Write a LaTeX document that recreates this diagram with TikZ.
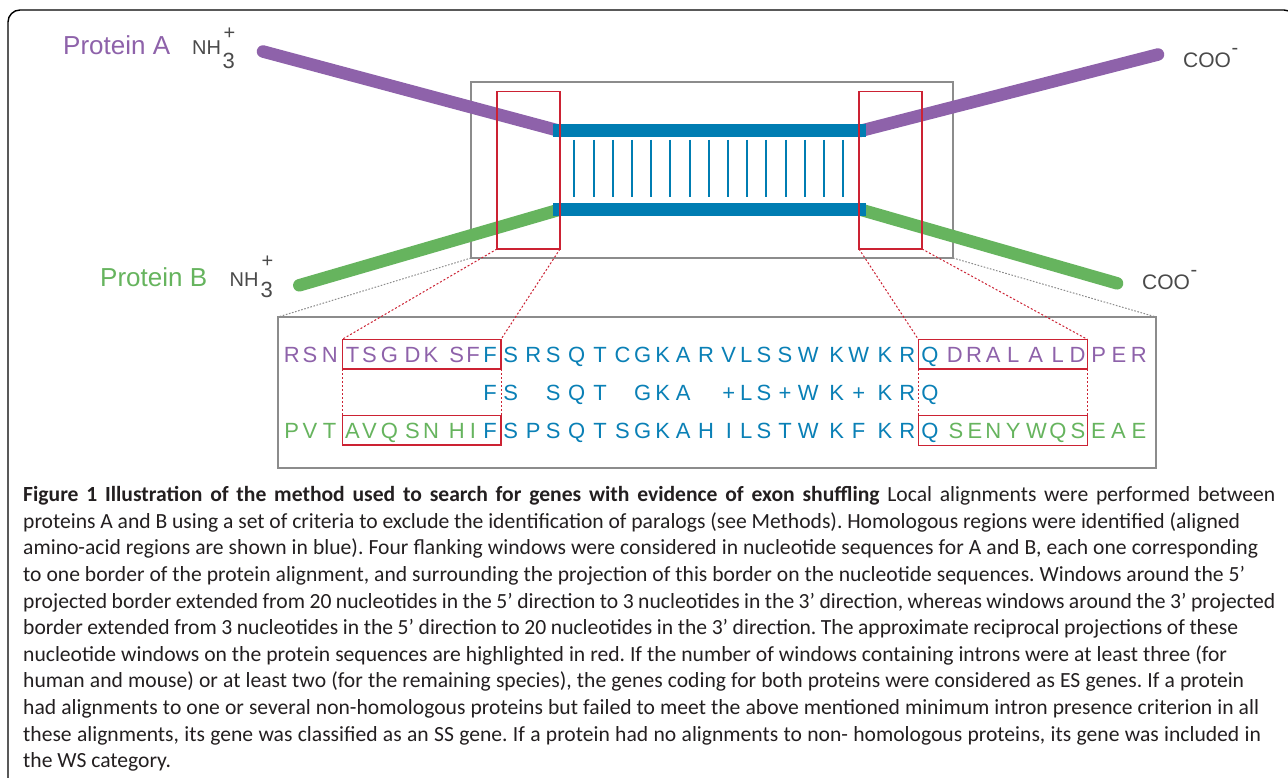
\documentclass[tikz,border=0pt]{standalone}
\usepackage{fontspec}
\setmainfont{Liberation Sans}
\newfontfamily\capfont{Carlito}
\definecolor{cpur}{HTML}{8E62AA}
\definecolor{cgrn}{HTML}{66B45E}
\definecolor{cblu}{HTML}{007DB2}
\definecolor{tblu}{HTML}{0A80B6}
\definecolor{cred}{HTML}{CC2233}
\definecolor{cgry}{HTML}{8C8C8C}
\definecolor{ctxt}{HTML}{4A4A4A}
\definecolor{ccap}{HTML}{231F20}
\frenchspacing
\tikzset{
  band/.style={line width=12.5pt, line cap=round},
  bar/.style={fill=cblu, draw=none},
  rung/.style={draw=cblu, line width=2pt},
  greybox/.style={draw=cgry, line width=1.4pt},
  redbox/.style={draw=cred, line width=1.2pt},
  reddot/.style={draw=cred, line width=1pt, dash pattern=on 2pt off 2pt},
  greydot/.style={draw=cgry, line width=1pt, dash pattern=on 1.6pt off 1.6pt},
  plabel/.style={inner sep=0, anchor=base west, font=\fontsize{26}{26}\selectfont},
  chem/.style={inner sep=0, text=ctxt, font=\fontsize{20}{20}\selectfont},
  seq/.style={inner sep=0, anchor=base, font=\fontsize{22}{22}\selectfont},
  capline/.style={inner sep=0, anchor=base west, text=ccap, font=\capfont\fontsize{21.6}{21.6}\selectfont},
}
\begin{document}
\begin{tikzpicture}[x=1pt,y=-1pt]
\useasboundingbox (0,0) rectangle (1288,778);
\clip (0,0) rectangle (1288,778);
\fill[white] (0,0) rectangle (1288,778);
% outer frame
\draw[line width=1.4pt, black, rounded corners=12pt] (8,800) -- (8,10) -- (1296,10) -- (1296,800);
% grey boxes
\draw[greybox] (471,82) rectangle (953,258);
\draw[greybox] (278,317) rectangle (1156,468);
\coordinate (gbl) at (471,258); \coordinate (gbr) at (953,258);
\coordinate (sbl) at (278,317); \coordinate (sbr) at (1156,317);
\draw[greydot] (gbl) -- (sbl);
\draw[greydot] (gbr) -- (sbr);
% protein bands
\coordinate (a1) at (263,51.5); \coordinate (a2) at (560,131);
\coordinate (a3) at (860,131); \coordinate (a4) at (1158,54.5);
\coordinate (b1) at (299.3,285.3); \coordinate (b2) at (560,209.5);
\coordinate (b3) at (860,209.5); \coordinate (b4) at (1117,283.3);
\draw[band, cpur] (a1) -- (a2);
\draw[band, cpur] (a4) -- (a3);
\draw[band, cgrn] (b1) -- (b2);
\draw[band, cgrn] (b4) -- (b3);
\fill[bar] (553,124) rectangle (866,137);
\fill[bar] (553,203.5) rectangle (866,216);
\foreach \i in {0,...,14} \draw[rung] (574.3+\i*19.2,140) -- (574.3+\i*19.2,197);
% red windows
\draw[redbox] (497,91.7) rectangle (560,249);
\draw[redbox] (859,91.7) rectangle (922,249);
\coordinate (w1) at (497,249); \coordinate (w2) at (560,249);
\coordinate (w3) at (859,249); \coordinate (w4) at (922,249);
% sequence red boxes
\draw[redbox] (342.3,339.3) rectangle (501,369);
\draw[redbox] (342.3,415.5) rectangle (501,445);
\draw[redbox] (918.3,339.3) rectangle (1087.3,369);
\draw[redbox] (918.3,415.5) rectangle (1087.3,445.5);
\coordinate (s1) at (342.3,339.3); \coordinate (s2) at (501,339.3);
\coordinate (s3) at (918.3,339.3); \coordinate (s4) at (1087.3,339.3);
\draw[reddot] (w1) -- (s1);
\draw[reddot] (w2) -- (s2);
\draw[reddot] (w3) -- (s3);
\draw[reddot] (w4) -- (s4);
\draw[reddot] (342.3,369) -- (342.3,415.5);
\draw[reddot] (501,369) -- (501,415.5);
\draw[reddot] (918.3,369) -- (918.3,415.5);
\draw[reddot] (1087.3,369) -- (1087.3,415.5);
% labels
\node[plabel, text=cpur] (pa) at (63,55) {Protein A};
\node[plabel, text=cgrn] (pb) at (100,287) {Protein B};
\node[chem, anchor=base west] (nha) at (192,55) {NH};
\node[chem, anchor=base west, font=\fontsize{22}{22}\selectfont] (nha3) at (222.5,69) {3};
\node[chem, anchor=center] (nhap) at (229.5,33.5) {+};
\node[chem, anchor=base west] (nhb) at (229.5,287) {NH};
\node[chem, anchor=base west, font=\fontsize{22}{22}\selectfont] (nhb3) at (260.5,298) {3};
\node[chem, anchor=center] (nhbp) at (267.5,262) {+};
\node[chem, anchor=base west, font=\fontsize{21}{21}\selectfont] (coa) at (1183,68) {COO};
\node[chem, anchor=center] (coam) at (1235,51) {-};
\node[chem, anchor=base west, font=\fontsize{21}{21}\selectfont] (cob) at (1142,290) {COO};
\node[chem, anchor=center] (cobm) at (1194,273) {-};
% sequences
\foreach \x/\l/\c [count=\i] in {291.7/R/cpur,310/S/cpur,329.7/N/cpur,352.5/T/cpur,369.5/S/cpur,389.5/G/cpur,412.5/D/cpur,431/K/cpur,456.7/S/cpur,473/F/cpur,490/F/tblu,510.7/S/tblu,533.3/R/tblu,553.3/S/tblu,576.7/Q/tblu,600/T/tblu,622.5/C/tblu,642.7/G/tblu,662.7/K/tblu,683.3/A/tblu,706/R/tblu,728.8/V/tblu,746.3/L/tblu,764/S/tblu,785/S/tblu,808.2/W/tblu,836.7/K/tblu,858.7/W/tblu,885/K/tblu,907.3/R/tblu,930/Q/tblu,954.7/D/cpur,974/R/cpur,993.3/A/cpur,1013.3/L/cpur,1035.8/A/cpur,1057.8/L/cpur,1077.5/D/cpur,1098.8/P/cpur,1119/E/cpur,1138.8/R/cpur}
  \node[seq, text=\c] (ra\i) at (\x,362.3) {\l};
\foreach \x/\l [count=\i] in {490/F,510.7/S,553.3/S,576.7/Q,600/T,642.7/G,662.7/K,683.3/A,728.8/+,746.3/L,764/S,785/+,808.2/W,836.7/K,858.7/+,885/K,907.3/R,930/Q}
  \node[seq, text=tblu] (rm\i) at (\x,400) {\l};
\foreach \x/\l/\c [count=\i] in {291.7/P/cgrn,310/V/cgrn,329.7/T/cgrn,352.5/A/cgrn,369.5/V/cgrn,389.5/Q/cgrn,412.5/S/cgrn,431/N/cgrn,456.7/H/cgrn,473/I/cgrn,490/F/tblu,510.7/S/tblu,533.3/P/tblu,553.3/S/tblu,576.7/Q/tblu,600/T/tblu,622.5/S/tblu,642.7/G/tblu,662.7/K/tblu,683.3/A/tblu,706/H/tblu,728.8/I/tblu,746.3/L/tblu,764/S/tblu,785/T/tblu,808.2/W/tblu,836.7/K/tblu,858.7/F/tblu,885/K/tblu,907.3/R/tblu,930/Q/tblu,956/S/cgrn,975/E/cgrn,993.3/N/cgrn,1013.3/Y/cgrn,1036.5/W/cgrn,1058/Q/cgrn,1078/S/cgrn,1098.5/E/cgrn,1118.5/A/cgrn,1139/E/cgrn}
  \node[seq, text=\c] (rb\i) at (\x,438) {\l};
% caption
\node[capline] (c1) at (23,501.7) {\makebox[1252pt][s]{\textbf{Figure 1 Illustration of the method used to search for genes with evidence of exon shuffling} Local alignments were performed between}};
\node[capline] (c2) at (23,528.3) {\makebox[1217pt][s]{proteins A and B using a set of criteria to exclude the identification of paralogs (see Methods). Homologous regions were identified (aligned}};
\node[capline] (c3) at (23,554.9) {\makebox[1235pt][s]{amino-acid regions are shown in blue). Four flanking windows were considered in nucleotide sequences for A and B, each one corresponding}};
\node[capline] (c4) at (23,581.5) {\makebox[1222pt][s]{to one border of the protein alignment, and surrounding the projection of this border on the nucleotide sequences. Windows around the 5’}};
\node[capline] (c5) at (23,608.1) {\makebox[1252pt][s]{projected border extended from 20 nucleotides in the 5’ direction to 3 nucleotides in the 3’ direction, whereas windows around the 3’ projected}};
\node[capline] (c6) at (23,634.7) {\makebox[1215pt][s]{border extended from 3 nucleotides in the 5’ direction to 20 nucleotides in the 3’ direction. The approximate reciprocal projections of these}};
\node[capline] (c7) at (23,661.3) {\makebox[1204pt][s]{nucleotide windows on the protein sequences are highlighted in red. If the number of windows containing introns were at least three (for}};
\node[capline] (c8) at (23,687.9) {\makebox[1221pt][s]{human and mouse) or at least two (for the remaining species), the genes coding for both proteins were considered as ES genes. If a protein}};
\node[capline] (c9) at (23,714.5) {\makebox[1236pt][s]{had alignments to one or several non-homologous proteins but failed to meet the above mentioned minimum intron presence criterion in all}};
\node[capline] (c10) at (23,741.1) {\makebox[1238pt][s]{these alignments, its gene was classified as an SS gene. If a protein had no alignments to non- homologous proteins, its gene was included in}};
\node[capline] (c11) at (23,767.7) {the WS category.};
\end{tikzpicture}
\end{document}
